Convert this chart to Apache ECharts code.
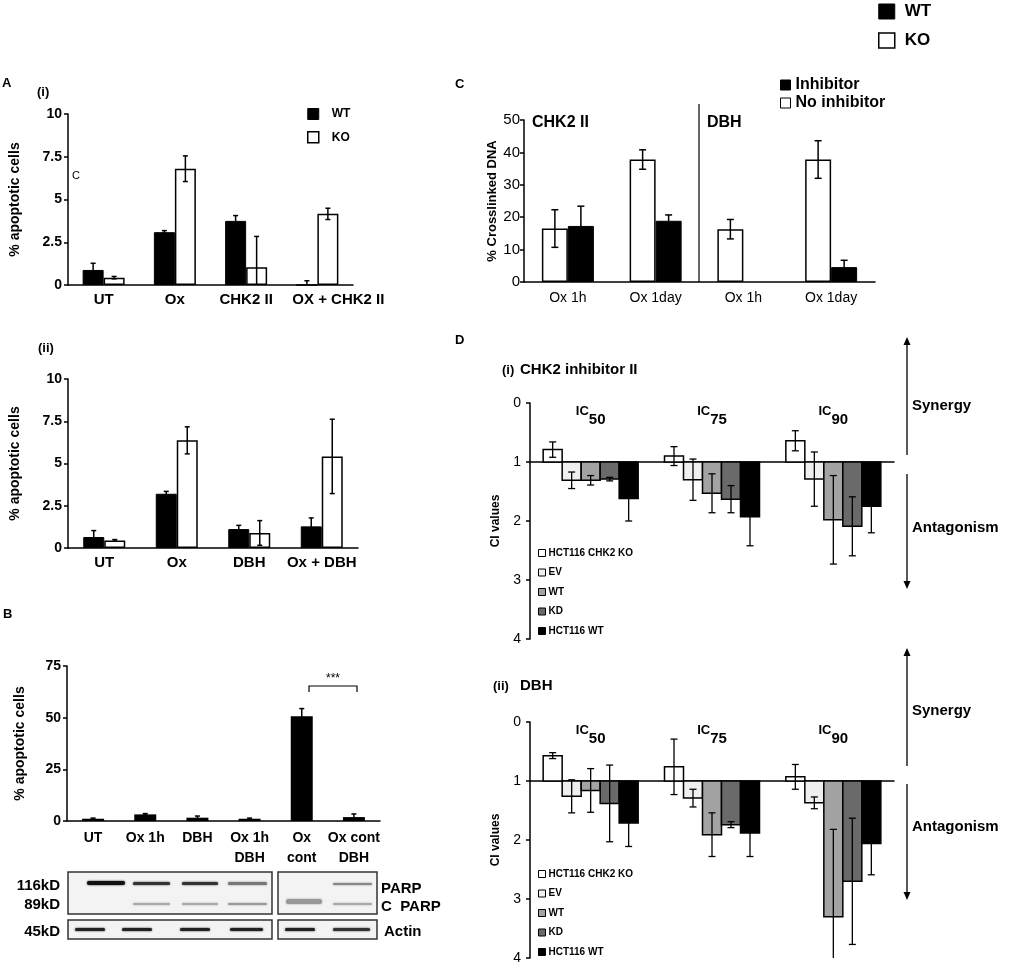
<!DOCTYPE html>
<html><head><meta charset="utf-8">
<script src="https://cdn.jsdelivr.net/npm/echarts@6/dist/echarts.min.js"></script>
<style>html,body{margin:0;padding:0;background:#fff}#c{width:1019px;height:967px}</style>
</head><body><div id="c"></div><script>
// ---------- data ----------
const aiCats = ['UT', 'Ox', 'CHK2 II', 'OX + CHK2 II'];
const aiWT = [0.88, 3.09, 3.75, 0];
const aiWTErr = [0.39, 0.09, 0.31, 0.25];
const aiKO = [0.43, 6.8, 1.04, 4.16];
const aiKOErr = [0.07, 0.75, 1.8, 0.33];

const aiiCats = ['UT', 'Ox', 'DBH', 'Ox + DBH'];
const aiiWT = [0.65, 3.21, 1.12, 1.28];
const aiiWTErr = [0.38, 0.14, 0.22, 0.5];
const aiiKO = [0.45, 6.37, 0.89, 5.42];
const aiiKOErr = [0.05, 0.8, 0.73, 2.2];

const bCats = ['UT', 'Ox 1h', 'DBH', 'Ox 1h\nDBH', 'Ox\ncont', 'Ox cont\nDBH'];
const bVals = [1.1, 3.2, 1.6, 1.1, 50.7, 1.9];
const bErr = [0.3, 0.4, 0.8, 0.3, 3.7, 1.5];

const cCats = ['Ox 1h', 'Ox 1day', 'Ox 1h', 'Ox 1day'];
const cNoInh = [16.5, 37.8, 16.3, 37.8];
const cNoInhErr = [5.8, 3.0, 3.0, 5.8];
const cInh = [17.3, 18.9, null, 4.6];
const cInhErr = [6.1, 1.8, null, 2.1];

const dCats = ['50', '75', '90'];
const dNames = ['HCT116 CHK2 KO', 'EV', 'WT', 'KD', 'HCT116 WT'];
const d1Vals = [[0.79, 0.9, 0.64], [1.31, 1.3, 1.29], [1.31, 1.53, 1.98], [1.29, 1.63, 2.09], [1.62, 1.93, 1.75]];
const d1Errs = [[0.13, 0.16, 0.17], [0.14, 0.35, 0.46], [0.08, 0.33, 0.75], [0.03, 0.23, 0.5], [0.38, 0.49, 0.45]];
const d2Vals = [[0.57, 0.76, 0.93], [1.26, 1.29, 1.37], [1.16, 1.91, 3.3], [1.38, 1.74, 2.7], [1.71, 1.88, 2.06]];
const d2Errs = [[0.05, 0.47, 0.21], [0.28, 0.15, 0.1], [0.37, 0.37, 1.48], [0.65, 0.05, 1.07], [0.4, 0.4, 0.53]];
const ciBase = 1;

// ---------- styles ----------
const FF = 'Liberation Sans, Arial, sans-serif';
const dColors = ['#ffffff', '#efefef', '#a3a3a3', '#6a6a6a', '#000000'];
const axLine = { lineStyle: { color: '#000', width: 1.5 } };
const axTick = { length: 4, lineStyle: { color: '#000', width: 1.5 } };

function errSeries(xi, yi, vals, errs, offset, cap) {
  const data = [];
  vals.forEach((v, i) => { if (v != null && errs[i] != null) data.push([i, v, errs[i]]); });
  return {
    type: 'custom', xAxisIndex: xi, yAxisIndex: yi, clip: true, silent: true, z: 5,
    data: data,
    renderItem(params, api) {
      const i = api.value(0), v = api.value(1), e = api.value(2);
      const x = api.coord([i, v])[0] + offset;
      const hi = api.coord([i, v + e])[1], lo = api.coord([i, v - e])[1];
      const st = { stroke: '#000', lineWidth: 1.5 };
      return { type: 'group', children: [
        { type: 'line', shape: { x1: x, y1: hi, x2: x, y2: lo }, style: st },
        { type: 'line', shape: { x1: x - cap / 2, y1: hi, x2: x + cap / 2, y2: hi }, style: st },
        { type: 'line', shape: { x1: x - cap / 2, y1: lo, x2: x + cap / 2, y2: lo }, style: st }
      ] };
    }
  };
}

function dSeries(prefix, k, vals, errs, xi, yi) {
  const color = dColors[k];
  const bw = 19;
  return {
    type: 'custom', name: prefix + dNames[k], xAxisIndex: xi, yAxisIndex: yi, clip: true,
    itemStyle: { color: color, borderColor: '#000', borderWidth: 1 },
    data: vals.map((v, i) => [i, v, errs[i]]),
    renderItem(params, api) {
      const i = api.value(0), v = api.value(1), e = api.value(2);
      const c = api.coord([i, ciBase]), p = api.coord([i, v]);
      const x0 = c[0] - 2.5 * bw + k * bw;
      const xc = x0 + bw / 2;
      const hi = api.coord([i, v - e])[1], lo = api.coord([i, v + e])[1];
      const st = { stroke: '#000', lineWidth: 1.3 };
      return { type: 'group', children: [
        { type: 'rect', shape: { x: x0, y: Math.min(c[1], p[1]), width: bw, height: Math.abs(p[1] - c[1]) },
          style: { fill: color, stroke: '#000', lineWidth: 1.5 } },
        { type: 'line', shape: { x1: xc, y1: hi, x2: xc, y2: lo }, style: st, z2: 5 },
        { type: 'line', shape: { x1: xc - 3.5, y1: hi, x2: xc + 3.5, y2: hi }, style: st, z2: 5 },
        { type: 'line', shape: { x1: xc - 3.5, y1: lo, x2: xc + 3.5, y2: lo }, style: st, z2: 5 }
      ] };
    }
  };
}

function catAxis(grid, data, opts) {
  return Object.assign({
    type: 'category', gridIndex: grid, data: data,
    axisLine: axLine, axisTick: axTick,
    axisLabel: { interval: 0, color: '#000', fontFamily: FF, fontWeight: 'bold', fontSize: 14, margin: 7, lineHeight: 20 }
  }, opts || {});
}
function valAxis(grid, min, max, interval, name, nameGap, opts) {
  return Object.assign({
    type: 'value', gridIndex: grid, min: min, max: max, interval: interval,
    name: name, nameLocation: 'middle', nameGap: nameGap,
    nameTextStyle: { color: '#000', fontFamily: FF, fontWeight: 'bold', fontSize: 14 },
    axisLine: { show: true, lineStyle: { color: '#000', width: 1.5 } },
    axisTick: { show: true, length: 4, lineStyle: { color: '#000', width: 1.5 } },
    splitLine: { show: false },
    axisLabel: { color: '#000', fontFamily: FF, fontWeight: 'bold', fontSize: 14, margin: 6 }
  }, opts || {});
}

const icLabel = {
  inside: true, interval: 0, margin: 2,
  formatter: v => '{a|IC}{b|' + v + '}',
  rich: {
    a: { fontFamily: FF, fontWeight: 'bold', fontSize: 13, color: '#000', verticalAlign: 'top', lineHeight: 22 },
    b: { fontFamily: FF, fontWeight: 'bold', fontSize: 15, color: '#000', verticalAlign: 'bottom', lineHeight: 22 }
  }
};
const dYLabel = { color: '#000', fontFamily: FF, fontWeight: 'normal', fontSize: 14, margin: 9 };
const aXLabel = { interval: 0, color: '#000', fontFamily: FF, fontWeight: 'bold', fontSize: 15, margin: 7 };
const aiXLabel = Object.assign({}, aXLabel, {
  formatter: (v, i) => i === 3 ? '{s|' + v + '}' : v,
  rich: { s: { fontFamily: FF, fontWeight: 'bold', fontSize: 15, color: '#000', padding: [0, 0, 0, 42] } }
});

const series = [];
// A(i)
series.push({ type: 'bar', name: 'WT', xAxisIndex: 0, yAxisIndex: 0, data: aiWT, barWidth: 21, barGap: '0%',
  itemStyle: { color: '#000', borderColor: '#000', borderWidth: 1 } });
series.push({ type: 'bar', name: 'KO', xAxisIndex: 0, yAxisIndex: 0, data: aiKO, barWidth: 21, barGap: '0%',
  itemStyle: { color: '#fff', borderColor: '#000', borderWidth: 1.5 } });
series.push(errSeries(0, 0, aiWT, aiWTErr, -10.5, 5));
series.push(errSeries(0, 0, aiKO, aiKOErr, 10.5, 5));
// A(ii)
series.push({ type: 'bar', name: 'WT', xAxisIndex: 1, yAxisIndex: 1, data: aiiWT, barWidth: 21, barGap: '0%',
  itemStyle: { color: '#000', borderColor: '#000', borderWidth: 1 } });
series.push({ type: 'bar', name: 'KO', xAxisIndex: 1, yAxisIndex: 1, data: aiiKO, barWidth: 21, barGap: '0%',
  itemStyle: { color: '#fff', borderColor: '#000', borderWidth: 1.5 } });
series.push(errSeries(1, 1, aiiWT, aiiWTErr, -10.5, 5));
series.push(errSeries(1, 1, aiiKO, aiiKOErr, 10.5, 5));
// B
series.push({ type: 'bar', name: 'B', xAxisIndex: 2, yAxisIndex: 2, data: bVals, barWidth: 22,
  itemStyle: { color: '#000' } });
series.push(errSeries(2, 2, bVals, bErr, 0, 5));
// C
series.push({ type: 'bar', name: 'No inhibitor', xAxisIndex: 3, yAxisIndex: 3, data: cNoInh, barWidth: 26, barGap: '0%',
  itemStyle: { color: '#fff', borderColor: '#000', borderWidth: 1.5 } });
series.push({ type: 'bar', name: 'Inhibitor', xAxisIndex: 3, yAxisIndex: 3, data: cInh, barWidth: 26, barGap: '0%',
  itemStyle: { color: '#000', borderColor: '#000', borderWidth: 1 } });
series.push(errSeries(3, 3, cNoInh, cNoInhErr, -13, 7));
series.push(errSeries(3, 3, cInh, cInhErr, 13, 7));
// D
for (let k = 0; k < 5; k++) series.push(dSeries('i:', k, d1Vals[k], d1Errs[k], 4, 4));
for (let k = 0; k < 5; k++) series.push(dSeries('ii:', k, d2Vals[k], d2Errs[k], 6, 6));

// ---------- decorative graphics ----------
const T = (x, y, text, size, weight, extra) => ({ type: 'text', x: x, y: y,
  style: Object.assign({ text: text, fill: '#000', font: (weight || 'bold') + ' ' + size + 'px ' + FF, textVerticalAlign: 'middle' }, extra || {}) });
const L = (x1, y1, x2, y2, w, c) => ({ type: 'line', shape: { x1, y1, x2, y2 }, style: { stroke: c || '#000', lineWidth: w || 1.5 } });
const tri = (x, y, up) => ({ type: 'polygon', shape: { points: up ? [[x, y], [x - 3.5, y + 8], [x + 3.5, y + 8]] : [[x, y], [x - 3.5, y - 8], [x + 3.5, y - 8]] }, style: { fill: '#000' } });
const band = (x, y, w, h, c) => ({ type: 'rect', shape: { x, y, width: w, height: h, r: h / 2 },
  style: { fill: c, shadowBlur: 2, shadowColor: c }, z: 12 });
const box = (x, y, w, h) => ({ type: 'rect', shape: { x, y, width: w, height: h }, style: { fill: '#f3f3f3', stroke: '#333', lineWidth: 1.5 }, z: 11 });

const graphics = [
  T(2, 83, 'A', 13), T(37, 92, '(i)', 13), T(72, 176, 'C', 11, 'normal'),
  T(38, 348, '(ii)', 13),
  T(3, 614, 'B', 13),
  T(455, 84, 'C', 13),
  T(455, 340, 'D', 13),
  // B bracket
  { type: 'polyline', shape: { points: [[309, 692], [309, 686], [357, 686], [357, 692]] }, style: { stroke: '#000', lineWidth: 1.2, fill: null } },
  T(333, 679, '***', 12, 'normal', { textAlign: 'center' }),
  // C
  L(699, 104, 699, 282, 1.5, '#333'),
  T(532, 123, 'CHK2 II', 16), T(707, 123, 'DBH', 16),
  // D titles
  T(502, 370, '(i)', 13), T(520, 370, 'CHK2 inhibitor II', 15),
  T(493, 686, '(ii)', 13), T(520, 686, 'DBH', 15),
  // D arrows
  L(907, 341, 907, 455, 1.3), tri(907, 337, true), L(907, 474, 907, 585, 1.3), tri(907, 589, false),
  L(907, 652, 907, 766, 1.3), tri(907, 648, true), L(907, 784, 907, 896, 1.3), tri(907, 900, false),
  T(912, 406, 'Synergy', 15), T(912, 528, 'Antagonism', 15),
  T(912, 711, 'Synergy', 15), T(912, 827, 'Antagonism', 15),
  // western blot
  box(68, 872, 204, 42), box(278, 872, 99, 42), box(68, 920, 204, 19), box(278, 920, 99, 19),
  band(87, 881, 38, 4, '#111'), band(133, 882, 37, 3, '#333'), band(182, 882, 36, 3, '#333'), band(228, 882, 39, 3, '#777'),
  band(333, 883, 39, 2, '#888'),
  band(133, 903, 37, 2, '#aaa'), band(182, 903, 36, 2, '#aaa'), band(228, 903, 39, 2, '#999'),
  band(286, 899, 36, 5, '#999'), band(333, 903, 39, 2, '#aaa'),
  band(75, 928, 30, 3, '#222'), band(122, 928, 30, 3, '#222'), band(180, 928, 30, 3, '#222'), band(230, 928, 33, 3, '#222'),
  band(285, 928, 30, 3, '#222'), band(333, 928, 37, 3, '#333'),
  T(60, 886, '116kD', 15, 'bold', { textAlign: 'right' }), T(60, 905, '89kD', 15, 'bold', { textAlign: 'right' }),
  T(60, 932, '45kD', 15, 'bold', { textAlign: 'right' }),
  T(381, 889, 'PARP', 15), T(381, 907, 'C  PARP', 15), T(384, 932, 'Actin', 15)
];

const legTxt = (s, pad) => ({ color: '#000', fontFamily: FF, fontWeight: 'bold', fontSize: s, padding: [0, 0, 0, pad || 0] });
const dLegend = (prefix, top) => ({
  left: 538, top: top, padding: 0, orient: 'vertical', itemWidth: 7, itemHeight: 7, itemGap: 9.5, selectedMode: false, icon: 'rect',
  data: dNames.map((n, k) => ({ name: prefix + n, itemStyle: { color: dColors[k], borderColor: '#000', borderWidth: 1 } })),
  formatter: n => n.replace(/^i+:/, ''), textStyle: legTxt(10, -2)
});

const option = {
  animation: false,
  backgroundColor: '#fff',
  grid: [
    { left: 68, top: 114, width: 285, height: 171 },
    { left: 68, top: 379, width: 290, height: 169 },
    { left: 67, top: 666, width: 313, height: 155 },
    { left: 524, top: 120, width: 351, height: 162 },
    { left: 530, top: 403, width: 364, height: 236 },
    { left: 530, top: 722, width: 364, height: 236 }
  ],
  xAxis: [
    catAxis(0, aiCats, { axisLabel: aiXLabel }),
    catAxis(1, aiiCats, { axisLabel: aXLabel }),
    catAxis(2, bCats),
    catAxis(3, cCats, { axisLabel: { interval: 0, color: '#000', fontFamily: FF, fontSize: 14, margin: 9 } }),
    catAxis(4, dCats, { axisLine: { onZero: true, onZeroAxisIndex: 5, lineStyle: { color: '#000', width: 1.5 } }, axisTick: { length: 3, lineStyle: { color: '#000', width: 1.5 } }, axisLabel: { show: false } }),
    catAxis(4, dCats, { position: 'top', axisLine: { show: false }, axisTick: { show: false }, axisLabel: icLabel }),
    catAxis(5, dCats, { axisLine: { onZero: true, onZeroAxisIndex: 7, lineStyle: { color: '#000', width: 1.5 } }, axisTick: { length: 3, lineStyle: { color: '#000', width: 1.5 } }, axisLabel: { show: false } }),
    catAxis(5, dCats, { position: 'top', axisLine: { show: false }, axisTick: { show: false }, axisLabel: icLabel })
  ],
  yAxis: [
    valAxis(0, 0, 10, 2.5, '% apoptotic cells', 46),
    valAxis(1, 0, 10, 2.5, '% apoptotic cells', 46),
    valAxis(2, 0, 75, 25, '% apoptotic cells', 40),
    valAxis(3, 0, 50, 10, '% Crosslinked DNA', 25, { nameTextStyle: { color: '#000', fontFamily: FF, fontWeight: 'bold', fontSize: 13 }, axisLabel: { color: '#000', fontFamily: FF, fontSize: 15, margin: 4 } }),
    valAxis(4, 0, 4, 1, 'CI values', 28, { inverse: true, nameTextStyle: { color: '#000', fontFamily: FF, fontWeight: 'bold', fontSize: 12 }, axisLabel: dYLabel }),
    { type: 'value', gridIndex: 4, min: -1, max: 3, inverse: true, show: false },
    valAxis(5, 0, 4, 1, 'CI values', 28, { inverse: true, nameTextStyle: { color: '#000', fontFamily: FF, fontWeight: 'bold', fontSize: 12 }, axisLabel: dYLabel }),
    { type: 'value', gridIndex: 5, min: -1, max: 3, inverse: true, show: false }
  ],
  legend: [
    { left: 878, top: 3, padding: 0, orient: 'vertical', itemWidth: 16, itemHeight: 15, itemGap: 12, selectedMode: false, icon: 'rect',
      data: [{ name: 'WT', itemStyle: { color: '#000', borderColor: '#000', borderWidth: 1 } }, { name: 'KO', itemStyle: { color: '#fff', borderColor: '#000', borderWidth: 1.5 } }],
      textStyle: legTxt(17, 5) },
    { left: 307, top: 108, padding: 0, orient: 'vertical', itemWidth: 11, itemHeight: 11, itemGap: 11, selectedMode: false, icon: 'rect',
      data: [{ name: 'WT', itemStyle: { color: '#000', borderColor: '#000', borderWidth: 1 } }, { name: 'KO', itemStyle: { color: '#fff', borderColor: '#000', borderWidth: 1.5 } }],
      textStyle: legTxt(12, 8) },
    { left: 780, top: 77, padding: 0, orient: 'vertical', itemWidth: 10, itemHeight: 10, itemGap: 2, selectedMode: false, icon: 'rect',
      data: [{ name: 'Inhibitor', itemStyle: { color: '#000', borderColor: '#000', borderWidth: 1 } }, { name: 'No inhibitor', itemStyle: { color: '#fff', borderColor: '#000', borderWidth: 1 } }],
      textStyle: legTxt(16) },
    dLegend('i:', 548),
    dLegend('ii:', 869)
  ],
  graphic: graphics,
  series: series
};

const chart = echarts.init(document.getElementById('c'), null, { renderer: 'canvas' });
chart.setOption(option);
</script></body></html>
